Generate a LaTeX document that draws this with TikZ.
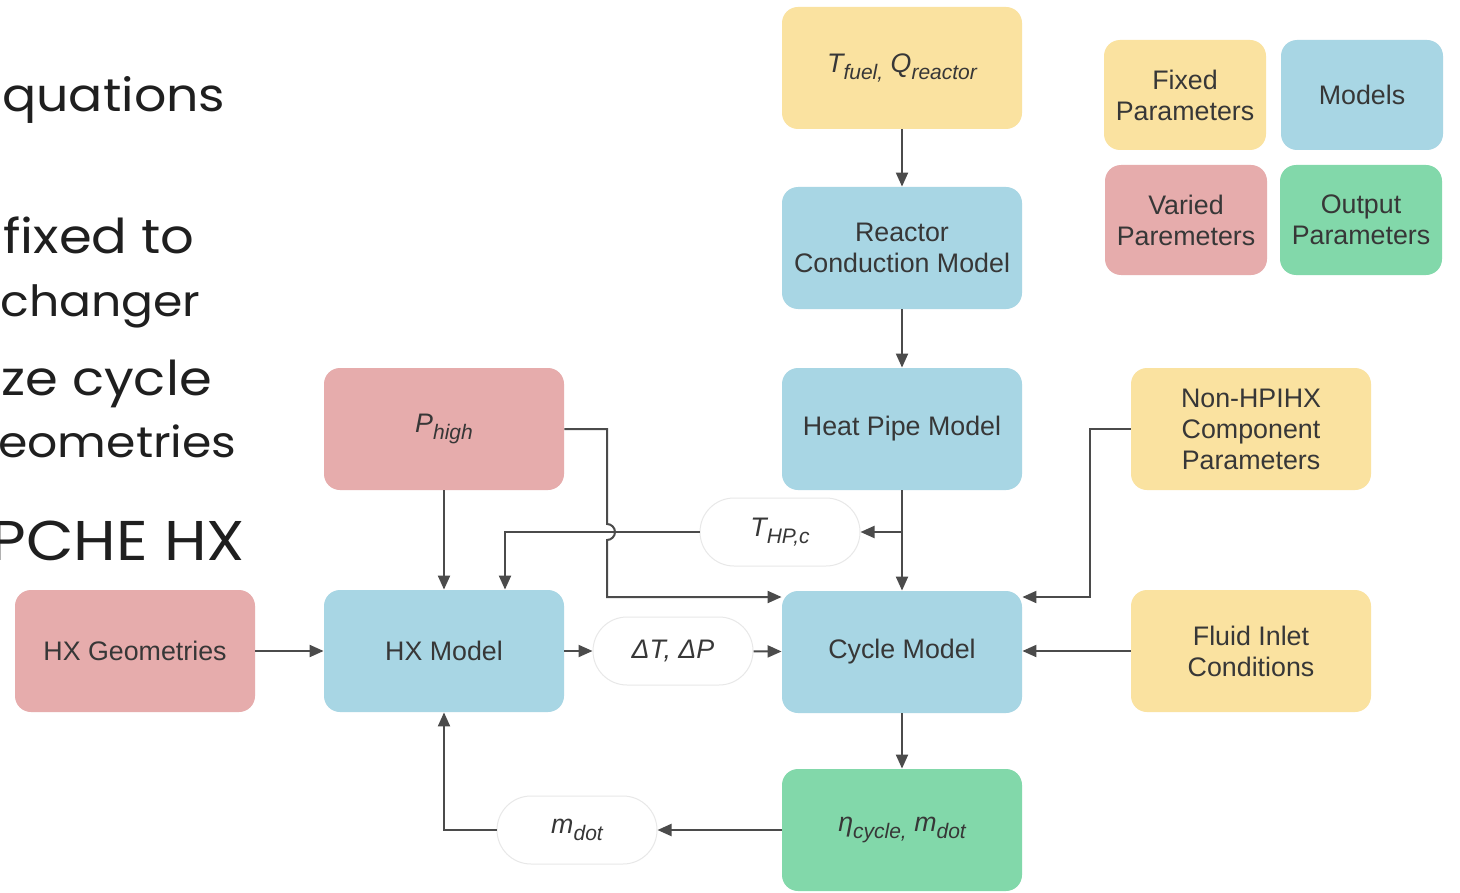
\documentclass[tikz,border=0pt]{standalone}
\usepackage{fontspec}
\setmainfont{Liberation Sans}
\newfontfamily\slidefont[FakeStretch=1.1]{Poppins}
\usetikzlibrary{arrows.meta}
\definecolor{fixedc}{RGB}{250,226,160}
\definecolor{modelc}{RGB}{168,214,228}
\definecolor{variedc}{RGB}{230,172,172}
\definecolor{outc}{RGB}{130,216,170}
\definecolor{inkc}{RGB}{55,55,55}
\definecolor{linec}{RGB}{75,75,75}
\definecolor{pillc}{RGB}{232,232,232}
% lowered subscript for the italic variable names
\newcommand\lowsub[1]{\raisebox{-0.5ex}{\fontsize{10.5}{10.5}\selectfont #1}}
\tikzset{
  box/.style={rounded corners=8pt, minimum width=120pt, minimum height=61pt,
    inner sep=2pt, align=center, font=\fontsize{13.4}{15.5}\selectfont, text=inkc},
  fixedbox/.style={box, fill=fixedc},
  modelbox/.style={box, fill=modelc},
  variedbox/.style={box, fill=variedc},
  outbox/.style={box, fill=outc},
  keybox/.style={minimum width=81pt, minimum height=55pt},
  pill/.style={rounded corners=17pt, minimum width=80pt, minimum height=34pt,
    draw=pillc, line width=0.5pt, fill=white, inner sep=2pt,
    font=\fontsize{13.4}{15.5}\selectfont\itshape, text=inkc},
  link/.style={draw=linec, line width=1pt},
  flow/.style={link, -{Triangle[length=7pt,width=6pt]}},
  slide/.style={inner sep=0pt, anchor=base west, text=black!88,
    font=\slidefont\fontsize{24}{24}\selectfont},
}
\begin{document}
\begin{tikzpicture}[x=0.5pt,y=-0.5pt]
\fill[white] (0,0) rectangle (1460,893);
\useasboundingbox (0,0) rectangle (1460,893);

% slide text at the left edge
\node[slide, font=\slidefont\fontsize{23}{23}\selectfont] (s1) at (2,112) {quations};
\node[slide] (s2) at (3,253) {fixed to};
\node[slide, font=\slidefont\fontsize{21.5}{21.5}\selectfont] (s3) at (0,316) {changer};
\node[slide] (s4) at (1,395) {ze cycle};
\node[slide, font=\slidefont\fontsize{21.5}{21.5}\selectfont] (s5) at (-2,457) {eometries};
\node[slide, font=\slidefont\fontsize{28}{28}\selectfont] (s6) at (-10,560) {PCHE HX};

% main column
\node[fixedbox] (fuel) at (902,68) {\itshape T\lowsub{fuel,} Q\lowsub{reactor}};
\node[modelbox] (cond) at (902,248) {Reactor\\Conduction Model};
\node[modelbox] (hp) at (902,429) {Heat Pipe Model};
\node[modelbox] (cyc) at (902,652) {Cycle Model};
\node[outbox] (eta) at (902,830) {\itshape η\lowsub{cycle,} m\lowsub{dot}};

% left side
\node[variedbox] (ph) at (444,429) {\itshape P\lowsub{high}};
\node[modelbox] (hx) at (444,651) {HX Model};
\node[variedbox] (geo) at (135,651) {HX Geometries};

% right side
\node[fixedbox] (comp) at (1251,429) {Non-HPIHX\\Component\\Parameters};
\node[fixedbox] (inlet) at (1251,651) {Fluid Inlet\\Conditions};

% key
\node[fixedbox, keybox] (kfix) at (1185,95) {Fixed\\Parameters};
\node[modelbox, keybox] (kmod) at (1362,95) {Models};
\node[variedbox, keybox] (kvar) at (1186,220) {Varied\\Paremeters};
\node[outbox, keybox] (kout) at (1361,220) {Output\\Parameters};

% transferred quantities
\node[pill] (thp) at (780,532) {T\lowsub{HP,c}};
\node[pill] (dtp) at (673,651) {ΔT, ΔP};
\node[pill] (md) at (577,830) {m\lowsub{dot}};

% junctions and bends
\coordinate (tap) at (902,532);
\coordinate (hop) at (607,532);
\coordinate (pin) at (607,597);
\coordinate (tin) at (505,532);
\coordinate (cin) at (1090,597);

% connectors
\draw[flow] (fuel) -- (cond);
\draw[flow] (cond) -- (hp);
\draw[flow] (hp) -- (cyc);
\draw[flow] (tap) -- (thp.east);
\draw[flow] (thp.west) -- (tin) -- (hx.north -| tin);
\draw[flow] (ph.east) -- (ph.east -| hop) -- ([yshift=4pt]hop)
  arc[start angle=90, end angle=-90, radius=4pt] -- (pin) -- (cyc.west |- pin);
\draw[flow] (ph) -- (hx);
\draw[flow] (geo) -- (hx);
\draw[flow] (hx) -- (dtp);
\draw[flow] (dtp) -- (cyc);
\draw[flow] (comp.west) -| (cin) -- (cyc.east |- cin);
\draw[flow] (inlet.west) -- (cyc.east |- inlet.west);
\draw[flow] (cyc) -- (eta);
\draw[flow] (eta) -- (md);
\draw[flow] (md.west) -| (hx.south);
\end{tikzpicture}
\end{document}
